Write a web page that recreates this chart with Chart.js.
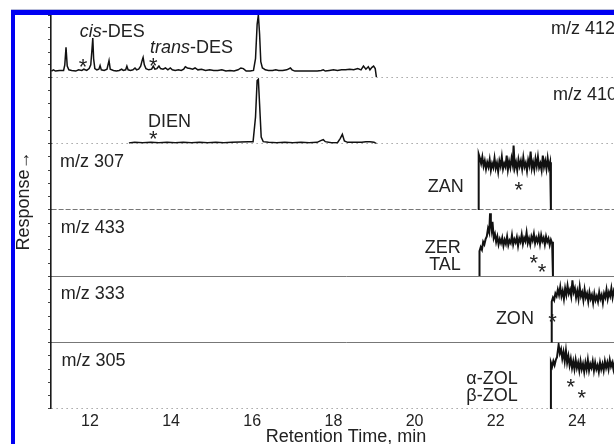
<!DOCTYPE html>
<html>
<head>
<meta charset="utf-8">
<script src="https://cdn.jsdelivr.net/npm/chart.js@4.4.0/dist/chart.umd.min.js"></script>
<style>
  html, body { margin: 0; padding: 0; background: #fff; overflow: hidden; }
  #wrap { position: relative; width: 614px; height: 444px; overflow: hidden; }
  #c { position: absolute; left: 0; top: 0; }
  #frame { position: absolute; left: 11px; top: 10px; width: 700px; height: 500px; box-sizing: border-box;
           border-top: 5px solid #0000f2; border-left: 4px solid #0000f2; box-shadow: 0 -1px 0 #b8bcd8; }
  #resp { position: absolute; left: 23px; top: 201px; transform: translate(-50%, -50%) rotate(-90deg);
          font: 18px "Liberation Sans", Arial, sans-serif; color: #222; white-space: nowrap; }
</style>
</head>
<body>
<div id="wrap">
  <canvas id="c" width="641" height="454"></canvas>
  <div id="frame"></div>
  <div id="resp">Response→</div>
</div>
<script>
// retention time ticks (min)
const xTicks = [12, 14, 16, 18, 20, 22, 24];

// ion traces, [retention time (min), relative response 0-100]
const mz412 = [
  [11.05,10],[11.10,12],[11.15,10],[11.25,11],[11.35,11],[11.38,20],[11.41,48],[11.44,18],[11.48,12],
  [11.55,11],[11.65,10],[11.72,12],[11.80,11],[11.85,13],[11.92,11],[11.98,14],[12.02,20],[12.05,45],
  [12.07,63],[12.09,30],[12.12,14],[12.17,12],[12.22,13],[12.25,19],[12.28,12],[12.35,11],[12.42,13],
  [12.47,27],[12.50,13],[12.58,11],[12.65,10],[12.72,11],[12.78,13],[12.82,11],[12.88,12],[12.91,18],
  [12.94,12],[13.00,11],[13.06,12],[13.11,15],[13.15,12],[13.20,13],[13.25,18],[13.29,28],[13.31,32],
  [13.34,20],[13.38,14],[13.45,12],[13.52,13],[13.56,18],[13.60,13],[13.65,14],[13.70,18],[13.74,14],
  [13.80,13],[13.86,15],[13.92,12],[13.98,15],[14.03,12],[14.10,11],[14.18,12],[14.25,11],[14.31,13],
  [14.35,17],[14.40,15],[14.47,14],[14.53,13],[14.59,15],[14.66,12],[14.75,13],[14.85,11],[14.95,12],
  [15.05,11],[15.15,11],[15.25,12],[15.35,10],[15.45,11],[15.55,10],[15.65,12],[15.72,15],[15.78,14],
  [15.85,10],[15.95,10],[16.03,11],[16.08,30],[16.12,85],[16.15,100],[16.18,70],[16.21,25],[16.25,15],
  [16.28,14],[16.32,12],[16.40,11],[16.50,11],[16.58,12],[16.65,11],[16.75,11],[16.85,12],[16.94,15],
  [16.98,12],[17.05,10],[17.15,10],[17.30,10],[17.45,10],[17.60,10],[17.70,11],[17.75,12],[17.80,10],
  [17.90,11],[18.00,12],[18.10,11],[18.20,12],[18.30,12],[18.40,13],[18.50,12],[18.60,14],[18.68,12],
  [18.74,18],[18.80,13],[18.86,17],[18.90,12],[18.95,16],[18.99,18],[19.03,14],[19.06,0]
];
const mz410 = [
  [12.96,1],[13.10,2],[13.30,1.5],[13.50,2],[13.70,1.5],[13.90,2],[14.10,1.5],[14.30,2],[14.50,1.5],
  [14.70,2],[14.90,1.5],[15.10,2],[15.30,1.5],[15.50,2],[15.70,2.5],[15.90,3],[16.02,3],[16.08,40],
  [16.12,95],[16.15,97],[16.18,60],[16.22,10],[16.27,3],[16.40,2],[16.60,1.5],[16.80,2],[17.00,1.5],
  [17.20,2],[17.40,1.5],[17.60,2],[17.70,5],[17.75,6],[17.80,3],[17.95,1.5],[18.10,1.5],[18.17,8],
  [18.22,14],[18.27,4],[18.35,2],[18.50,2],[18.70,2],[18.80,3],[18.90,3],[19.00,2],[19.06,0]
];
const mz307 = [
  [21.58,0],[21.58,84],[21.61,78],[21.64,70],[21.67,80],[21.70,66],[21.73,74],[21.76,62],[21.79,72],
  [21.82,65],[21.85,76],[21.88,60],[21.91,70],[21.94,64],[21.97,78],[22.00,63],[22.03,71],[22.06,58],
  [22.09,74],[22.12,66],[22.15,80],[22.18,62],[22.21,70],[22.24,65],[22.27,82],[22.30,61],[22.33,73],
  [22.36,64],[22.39,78],[22.42,68],[22.44,97],[22.47,64],[22.50,72],[22.53,60],[22.56,76],[22.59,66],
  [22.62,74],[22.65,62],[22.68,79],[22.71,65],[22.74,71],[22.77,59],[22.80,75],[22.83,67],[22.86,88],
  [22.89,63],[22.92,72],[22.95,61],[22.98,77],[23.01,66],[23.04,80],[23.07,64],[23.10,70],[23.13,60],
  [23.16,82],[23.19,65],[23.22,74],[23.25,62],[23.28,78],[23.31,64],[23.34,72],[23.36,68],[23.36,0]
];
const mz433 = [
  [21.60,0],[21.60,38],[21.63,44],[21.66,40],[21.69,52],[21.72,48],[21.75,56],[21.78,60],[21.81,72],
  [21.84,66],[21.86,95],[21.88,80],[21.90,70],[21.92,82],[21.95,58],[21.98,64],[22.01,52],[22.04,60],
  [22.07,48],[22.10,56],[22.13,50],[22.16,58],[22.19,46],[22.22,55],[22.25,49],[22.28,60],[22.31,47],
  [22.34,54],[22.37,50],[22.40,62],[22.43,48],[22.46,56],[22.49,51],[22.52,59],[22.55,46],[22.58,57],
  [22.61,52],[22.64,63],[22.67,49],[22.70,58],[22.73,53],[22.76,66],[22.79,50],[22.82,57],[22.85,48],
  [22.88,60],[22.91,54],[22.94,64],[22.97,50],[23.00,58],[23.03,52],[23.06,61],[23.09,49],[23.12,62],
  [23.15,53],[23.18,58],[23.21,48],[23.24,60],[23.27,52],[23.30,57],[23.33,47],[23.36,55],[23.39,50],
  [23.41,52],[23.41,0]
];
const mz333 = [
  [23.38,0],[23.38,62],[23.41,68],[23.44,64],[23.47,74],[23.50,70],[23.53,80],[23.56,72],[23.59,84],
  [23.62,70],[23.65,78],[23.68,66],[23.71,82],[23.74,72],[23.77,86],[23.80,74],[23.83,80],[23.86,70],
  [23.89,94],[23.92,76],[23.95,82],[23.98,68],[24.01,78],[24.04,66],[24.07,84],[24.10,70],[24.13,76],
  [24.16,64],[24.19,80],[24.22,68],[24.25,74],[24.28,62],[24.31,76],[24.34,66],[24.37,72],[24.40,60],
  [24.43,74],[24.46,64],[24.49,70],[24.52,62],[24.55,76],[24.58,66],[24.61,72],[24.64,60],[24.67,74],
  [24.70,68],[24.73,80],[24.76,66],[24.79,76],[24.82,70],[24.85,82],[24.88,68],[24.91,78],[24.94,72],
  [24.97,80],[25.00,70]
];
const mz305 = [
  [23.36,0],[23.36,70],[23.39,64],[23.42,72],[23.45,66],[23.48,74],[23.51,78],[23.55,97],[23.58,84],
  [23.61,90],[23.64,76],[23.67,86],[23.70,72],[23.73,88],[23.76,70],[23.79,80],[23.82,66],[23.85,76],
  [23.88,62],[23.91,72],[23.94,60],[23.97,74],[24.00,62],[24.03,70],[24.06,58],[24.09,72],[24.12,60],
  [24.15,68],[24.18,56],[24.21,70],[24.24,60],[24.27,74],[24.30,58],[24.33,68],[24.36,62],[24.39,72],
  [24.42,58],[24.45,70],[24.48,60],[24.51,66],[24.54,56],[24.57,70],[24.60,60],[24.63,68],[24.66,58],
  [24.69,72],[24.72,62],[24.75,70],[24.78,60],[24.81,74],[24.84,64],[24.87,70],[24.90,60],[24.93,72],
  [24.96,64],[25.00,70]
];

const traces = [mz412, mz410, mz307, mz433, mz333, mz305];
const ionLabels = ['m/z 412', 'm/z 410', 'm/z 307', 'm/z 433', 'm/z 333', 'm/z 305'];

// panel look
const panelWeight = [62, 66, 66, 66, 66, 66];
const lineWidth = [1.5, 1.5, 2, 2, 2, 2];   // noisy blocks print heavier
const baseDash = [[1, 4], [1, 4], [5, 2], [], [], [1, 4]];
const ionLabelPos = [[23.36, 77, 'left'], [23.41, 73, 'left'], [11.26, 73, 'left'],
                     [11.28, 73, 'left'], [11.28, 73, 'left'], [11.30, 73, 'left']];

// compound labels: panel, time, level, text parts [text, italic]
const notes = [
  {p: 0, t: 11.75, v: 73, align: 'left', parts: [['cis', true], ['-DES', false]]},
  {p: 0, t: 13.48, v: 47, align: 'left', parts: [['trans', true], ['-DES', false]]},
  {p: 1, t: 13.43, v: 33, align: 'left', parts: [['DIEN', false]]},
  {p: 2, t: 21.21, v: 35, align: 'right', parts: [['ZAN', false]]},
  {p: 3, t: 21.14, v: 42, align: 'right', parts: [['ZER', false]]},
  {p: 3, t: 21.14, v: 17, align: 'right', parts: [['TAL', false]]},
  {p: 4, t: 22.94, v: 36, align: 'right', parts: [['ZON', false]]},
  {p: 5, t: 22.54, v: 45, align: 'right', parts: [['α-ZOL', false]]},
  {p: 5, t: 22.54, v: 20, align: 'right', parts: [['β-ZOL', false]]}
];
// asterisks: panel, time, level
const stars = [[0, 11.83, 24], [0, 13.56, 26], [1, 13.56, 14], [2, 22.57, 38],
               [3, 22.94, 27], [3, 23.14, 14], [4, 23.40, 39], [5, 23.85, 41], [5, 24.12, 24]];

const FONT = '"Liberation Sans", Arial, sans-serif';
const INK = '#222';

const yId = i => 'y' + (i + 1);

const scales = {
  x: {
    type: 'linear', min: 11.04, max: 25.58,
    grid: { display: false, drawTicks: false },
    border: { display: false },
    afterBuildTicks: s => { s.ticks = xTicks.map(v => ({ value: v })); },
    afterFit: s => { s.height = 45; },
    ticks: { color: INK, font: { family: FONT, size: 16 }, padding: 3, autoSkip: false, maxRotation: 0 },
    title: { display: true, text: 'Retention Time, min', color: INK,
             font: { family: FONT, size: 18 }, padding: { top: 0, bottom: 6 } }
  }
};
// left axes in a stack are laid out last-defined on top, so add them bottom panel first
for (let i = traces.length - 1; i >= 0; i--) {
  scales[yId(i)] = {
    type: 'linear', position: 'left', stack: 'panels', stackWeight: panelWeight[i],
    min: 0, max: 100,
    afterFit: s => { s.width = 6; },
    ticks: { display: false, stepSize: 20 },
    grid: {
      color: ctx => (ctx.tick && ctx.tick.value === 0) ? '#777' : 'rgba(0,0,0,0)',
      lineWidth: 1, tickColor: '#444', tickLength: 3, drawTicks: true
    },
    border: { color: '#1a1a1a', width: 1.6, dash: baseDash[i] }
  };
}

const datasets = traces.map((tr, i) => ({
  data: tr, yAxisID: yId(i), borderColor: '#111', borderWidth: lineWidth[i],
  pointRadius: 0, tension: 0, fill: false
}));

const notesPlugin = {
  id: 'notes',
  afterDatasetsDraw(chart) {
    const ctx = chart.ctx, x = chart.scales.x;
    ctx.save();
    ctx.fillStyle = INK;
    ctx.textBaseline = 'middle';
    const drawParts = (parts, px, py, align) => {
      const widths = parts.map(([s, it]) => {
        ctx.font = (it ? 'italic ' : '') + '18px ' + FONT;
        return ctx.measureText(s).width;
      });
      const total = widths.reduce((a, b) => a + b, 0);
      let cx = align === 'right' ? px - total : px;
      ctx.textAlign = 'left';
      parts.forEach(([s, it], k) => {
        ctx.font = (it ? 'italic ' : '') + '18px ' + FONT;
        ctx.fillText(s, cx, py);
        cx += widths[k];
      });
    };
    ionLabels.forEach((lab, i) => {
      const [t, v, al] = ionLabelPos[i];
      drawParts([[lab, false]], x.getPixelForValue(t), chart.scales[yId(i)].getPixelForValue(v), al);
    });
    notes.forEach(n => {
      drawParts(n.parts, x.getPixelForValue(n.t), chart.scales[yId(n.p)].getPixelForValue(n.v), n.align);
    });
    ctx.font = '22px ' + FONT;
    ctx.textAlign = 'center';
    ctx.textBaseline = 'alphabetic';
    stars.forEach(([p, t, v]) => {
      ctx.fillText('*', x.getPixelForValue(t), chart.scales[yId(p)].getPixelForValue(v) + 12);
    });
    ctx.restore();
  }
};

new Chart(document.getElementById('c'), {
  type: 'line',
  data: { datasets },
  options: {
    responsive: false,
    animation: false,
    devicePixelRatio: 1,
    layout: { padding: { left: 45, top: 15, right: 0, bottom: 0 } },
    plugins: { legend: { display: false }, tooltip: { enabled: false } },
    scales
  },
  plugins: [notesPlugin]
});
</script>
</body>
</html>
